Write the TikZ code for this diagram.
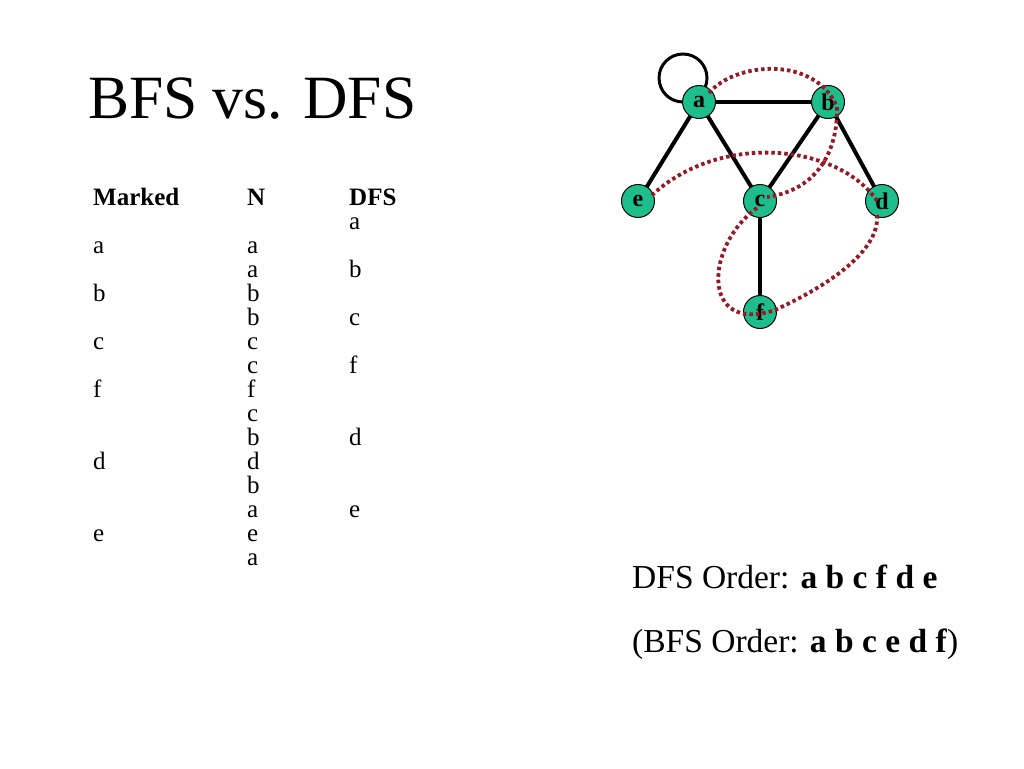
\documentclass[tikz,border=0pt]{standalone}
\usepackage{fontspec}
\setmainfont{Liberation Serif}
\usetikzlibrary{calc}
\definecolor{nodefill}{RGB}{30,190,140}
\definecolor{trace}{RGB}{150,25,40}
\begin{document}
\begin{tikzpicture}[x=1pt,y=-1pt,
  vert/.style={circle,draw=black,line width=1pt,fill=nodefill,minimum size=33pt,inner sep=0pt,font=\fontsize{24}{24}\selectfont\bfseries},
  edge/.style={line width=4pt},
  dfspath/.style={draw=trace,line width=3.8pt,dash pattern=on 3.5pt off 3pt},
  cell/.style={anchor=base west,inner sep=0pt,font=\fontsize{25}{25}\selectfont},
  head/.style={cell,font=\fontsize{25}{25}\selectfont\bfseries},
  txt/.style={anchor=base west,inner sep=0pt,font=\fontsize{33.5}{33.5}\selectfont}]
\useasboundingbox (0,0) rectangle (1024,768);
\fill[white] (0,0) rectangle (1024,768);
% title
\node[anchor=base west,inner sep=0pt,font=\fontsize{61.5}{61.5}\selectfont] (title) at (88,118) {BFS vs. DFS};
% table headers
\node[head] (hm) at (93,205) {Marked};
\node[head] (hn) at (247,205) {N};
\node[head] (hd) at (349,205) {DFS};
% Marked column
\foreach \r/\t [count=\i] in {2/a,4/b,6/c,8/f,11/d,14/e}
  \node[cell] (m\i) at (93,205+24*\r) {\t};
% N column
\foreach \r/\t [count=\i] in {2/a,3/a,4/b,5/b,6/c,7/c,8/f,9/c,10/b,11/d,12/b,13/a,14/e,15/a}
  \node[cell] (n\i) at (247,205+24*\r) {\t};
% DFS column
\foreach \r/\t [count=\i] in {1/a,3/b,5/c,7/f,10/d,13/e}
  \node[cell] (d\i) at (349,205+24*\r) {\t};
% graph
\draw[line width=3pt] (683,78) circle (24);
\coordinate (pa) at (699,102);
\coordinate (pb) at (828,102);
\coordinate (pe) at (638,201);
\coordinate (pc) at (760,201);
\coordinate (pd) at (882,201);
\coordinate (pf) at (760,312);
\draw[edge] (pa) -- (pb);
\draw[edge] (pa) -- (pe);
\draw[edge] (pa) -- (pc);
\draw[edge] (pb) -- (pc);
\draw[edge] (pb) -- (pd);
\draw[edge] (pc) -- (pf);
\node[vert] (a) at (pa) {a};
\node[vert] (b) at (pb) {b};
\node[vert] (e) at (pe) {e};
\node[vert] (c) at (pc) {c};
\node[vert] (d) at (pd) {d};
\node[vert] (f) at (pf) {f};
% DFS trace
\draw[dfspath] ($(a)+(10,-9)$) .. controls (735,62) and (815,55) .. ($(b)+(9,5)$)
  .. controls (838,150) and (818,190) .. ($(c)+(7,-4)$);
\draw[dfspath] ($(c)+(-3,7)$) .. controls (705,245) and (700,335) .. ($(f)+(15,-2)$)
  .. controls (830,285) and (880,250) .. ($(d)+(-5,14)$);
\draw[dfspath] ($(d)+(-5,0)$) .. controls (840,145) and (720,130) .. ($(e)+(12,-4)$);
% order texts
\node[txt] (dfsorder) at (632,588) {DFS Order: \textbf{a b c f d e}};
\node[txt] (bfsorder) at (632,652) {(BFS Order: \textbf{a b c e d f})};
\end{tikzpicture}
\end{document}
